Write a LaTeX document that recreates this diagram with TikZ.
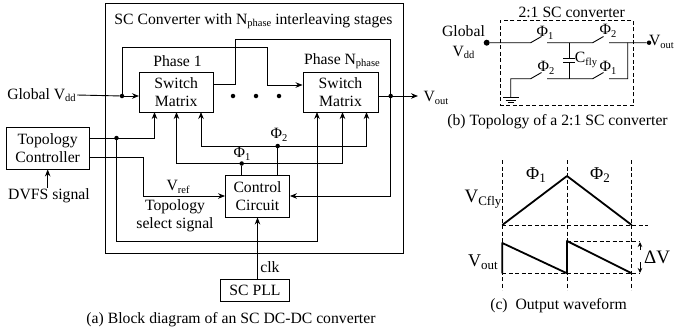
\documentclass[tikz,border=0pt]{standalone}
\usepackage{fontspec}
\setmainfont{Liberation Serif}
\usepackage{tikz}
\usetikzlibrary{arrows,arrows.meta,calc,positioning}
\newcommand{\low}[1]{\raisebox{-0.35ex}{\fontsize{10.5}{11}\selectfont #1}}
\newcommand{\lowb}[1]{\raisebox{-0.35ex}{\fontsize{13}{14}\selectfont #1}}
\tikzset{
	block/.style={draw,line width=0.9pt,inner sep=0pt,align=center},
	txt/.style={inner sep=0pt,align=center},
	bigtxt/.style={txt,font=\fontsize{19}{22}\selectfont},
	dot/.style={circle,fill=black,inner sep=0pt,minimum size=4.5pt},
	bigdot/.style={circle,fill=black,inner sep=0pt,minimum size=6pt},
	wire/.style={line width=0.9pt},
	flow/.style={wire,-{Stealth[length=7pt,width=5.5pt]}},
	guide/.style={dash pattern=on 4pt off 2.5pt,line width=0.8pt},
	wave/.style={line width=1.8pt,line join=round}
}

\begin{document}
\begin{tikzpicture}[x=1pt,y=-1pt,font=\fontsize{15.7}{18}\selectfont]
	\useasboundingbox (0,0) rectangle (674,333);
	% part a
	\node[block,minimum width=298pt,minimum height=250pt] (conv) at (254,128) {};
	\node[txt] (conv_t) at (253.5,21) {SC Converter with N\low{phase} interleaving stages};
	\node[block,minimum width=73.5pt,minimum height=40pt] (sw_1) at (176.2,92) {Switch\\Matrix};
	\node[block,minimum width=75pt,minimum height=40pt] (sw_n) at (340.5,92) {Switch\\Matrix};
	\node[txt] (ph_1) at (177.5,61) {Phase 1};
	\node[txt] (ph_n) at (342,61) {Phase N\low{phase}};
	\node[block,minimum width=82.5pt,minimum height=42pt] (topo) at (47.7,148) {Topology\\Controller};
	\node[block,minimum width=64pt,minimum height=42pt] (ctrl) at (257.5,196) {Control\\Circuit};
	\node[block,minimum width=69pt,minimum height=21.5pt] (pll) at (255,290.5) {SC PLL};
	\node[txt,outer sep=1.5pt] (vdd) at (41.5,95) {Global V\low{dd}};
	\node[txt] (vout) at (436,98) {V\low{out}};
	\node[txt] (dvfs) at (49,196) {DVFS signal};
	\node[txt] (vref) at (178,187) {V\low{ref}};
	\node[txt] (sel) at (175,216) {Topology\\select signal};
	\node[txt] (clk) at (270,267) {clk};
	\node[txt] (phi_1) at (242,154) {Φ\low{1}};
	\node[txt] (phi_2) at (279,135) {Φ\low{2}};
	\node[dot] (j_vdd) at (122,96) {};
	\node[dot] (j_out) at (390.7,96) {};
	\node[dot] (j_topo) at (116.5,138) {};
	\node[dot] (j_phi1) at (241.7,163.5) {};
	\node[dot] (j_phi2) at (277.7,146) {};
	\foreach \i/\x in {1/233,2/256,3/279}
		\node[dot] (gap_\i) at (\x,96) {};
	\path[wire]
		(vdd.east) edge (j_vdd);
	\draw[flow] (j_vdd) -- (sw_1.west |- j_vdd);
	\draw[flow] (j_vdd) |- (267,47.5) |- (sw_n.west |- 0,85);
	\draw[wire] (sw_1.east |- 0,84) -| (235,39) -| (j_out);
	\draw[flow] (j_out) |- (ctrl.east);
	\draw[flow] (sw_n.east |- j_out) -- (418,96);
	\draw[flow] (topo.east |- j_topo) -| (154.5,112);
	\draw[flow] (j_topo) |- (317,241) -- (317,112);
	\draw[flow] (topo.east |- 0,157.5) -| (143.5,196) -- (ctrl.west |- 0,196);
	\draw[flow] (342.5,163.5) -- (342.5,112);
	\draw[flow] (342.5,163.5) -| (176.5,112);
	\draw[flow] (366.5,146) -- (366.5,112);
	\draw[flow] (366.5,146) -| (201,112);
	\draw[wire] (j_phi1) -- (j_phi1 |- ctrl.north);
	\draw[wire] (j_phi2) -- (j_phi2 |- ctrl.north);
	\draw[flow] (pll.north -| ctrl.south) -- (ctrl.south);
	\draw[flow] (dvfs.north -| topo.south) ++(0,-1) -- (topo.south);
	\node[txt] (cap_a) at (231,320) {(a) Block diagram of an SC DC-DC converter};
	% part b
	\node[block,dash pattern=on 4pt off 2.5pt,line width=0.8pt,minimum width=133.7pt,minimum height=85pt] (box_b) at (566.8,63.2) {};
	\node[txt] (b_t) at (571.7,12) {2:1 SC converter};
	\node[txt] (b_vdd) at (463.5,42) {Global\\[2pt]V\low{dd}};
	\node[txt] (b_vout) at (661.5,42) {V\low{out}};
	\node[bigdot] (b_in) at (486.7,42.7) {};
	\node[dot] (b_out) at (649,42.7) {};
	\node[txt] (cfly) at (586,60) {C\low{fly}};
	\node[txt] (b_p1) at (545,33) {Φ\low{1}};
	\node[txt] (b_p2) at (608,31) {Φ\low{2}};
	\node[txt] (b_p3) at (546,68) {Φ\low{2}};
	\node[txt] (b_p4) at (608,68) {Φ\low{1}};
	\coordinate (b_up) at (569,42.7);
	\coordinate (b_dn) at (569,78.7);
	\coordinate (b_r) at (627.7,42.7);
	\coordinate (b_rd) at (627.7,78.7);
	\coordinate (b_gnd) at (510.7,97.5);
	% switches
	\draw[wire] (b_in) -- (530.7,42.7) -- (541.5,36.5) (547,42.7) -- (b_up) -- (592.7,42.7) -- (603.5,36.5) (609,42.7) -- (b_r) -- (b_out);
	\draw[wire] (b_gnd) |- (530.7,78.7) -- (541.5,72.5) (547,78.7) -- (b_dn) -- (592.7,78.7) -- (603.5,72.5) (609,78.7) -- (b_rd) -- (b_r);
	\draw[wire] (b_up) -- (569,58.5) (563,58.5) -- (575,58.5) (563,62) -- (575,62) (569,62) -- (b_dn);
	\draw[wire] (503,97.5) -- (518.5,97.5) (505.5,100) -- (516,100) (508,102.5) -- (513.5,102.5);
	\node[txt] (cap_b) at (557.5,122) {(b) Topology of a 2:1 SC converter};
	% part c
	\node[txt,font=\fontsize{18}{20}\selectfont] (c_p1) at (536,175) {Φ\lowb{1}};
	\node[txt,font=\fontsize{18}{20}\selectfont] (c_p2) at (600,175) {Φ\lowb{2}};
	\node[bigtxt] (c_vc) at (483,199) {V\lowb{Cfly}};
	\node[txt,font=\fontsize{18}{20}\selectfont] (c_vo) at (483,262) {V\lowb{out}};
	\node[bigtxt] (c_dv) at (657,257) {ΔV};
	\foreach \x in {502.3,567,631.7}
		\draw[guide] (\x,160) -- (\x,290);
	\draw[guide] (502.3,225) -- (648,225);
	\draw[guide] (502.3,273.3) -- (639,273.3);
	\draw[guide] (567,241) -- (639,241);
	\draw[wave] (502.3,225) -- (567,176) -- (631.7,225);
	\draw[wave] (502.3,273.3) -- (502.3,243) -- (567,273.3) -- (567,241) -- (631.7,273.3);
	\draw[wire,-{Stealth[length=5pt,width=4.5pt]}] (640,250) -- (640,242);
	\draw[wire,-{Stealth[length=5pt,width=4.5pt]}] (640,262) -- (640,273);
	\node[txt] (cap_c) at (558.5,306) {(c)\ \ Output waveform};
\end{tikzpicture}
\end{document}
